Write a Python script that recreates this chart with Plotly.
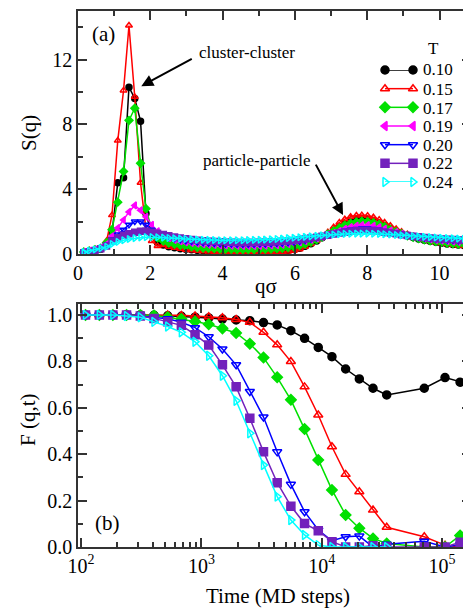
import plotly.graph_objects as go

# ---------------- data: panel (a) S(q) ----------------
q = [0.16, 0.31, 0.47, 0.63, 0.79, 0.94, 1.10, 1.26, 1.41, 1.57, 1.73, 1.88, 2.04, 2.20,
     2.36, 2.51, 2.67, 2.83, 2.98, 3.14, 3.30, 3.46, 3.61, 3.77, 3.93, 4.08, 4.24, 4.40,
     4.56, 4.71, 4.87, 5.03, 5.18, 5.34, 5.50, 5.65, 5.81, 5.97, 6.13, 6.28, 6.44, 6.60,
     6.75, 6.91, 7.07, 7.23, 7.38, 7.54, 7.70, 7.85, 8.01, 8.17, 8.33, 8.48, 8.64, 8.80,
     8.95, 9.11, 9.27, 9.42, 9.58, 9.74, 9.90, 10.05, 10.21, 10.37, 10.52, 10.68, 10.84, 11.00]

S_010 = [0.10, 0.15, 0.22, 0.30, 0.60,
         1.3, 4.4, 4.7, 10.3, 9.6, 8.2, 2.5, 1.2, 0.7,
         0.55, 0.45, 0.38, 0.33, 0.29, 0.26, 0.23, 0.21, 0.19, 0.18, 0.17, 0.16, 0.16, 0.15,
         0.15, 0.15, 0.15, 0.16, 0.16, 0.17, 0.18, 0.20, 0.23,
         0.28, 0.36, 0.48, 0.63, 0.80, 1.00, 1.22, 1.45, 1.68, 1.88, 2.02, 2.12, 2.15, 2.12,
         2.04, 1.92, 1.76, 1.58, 1.42, 1.27, 1.13, 1.02, 0.93,
         0.85, 0.78, 0.72, 0.67, 0.62, 0.58, 0.55, 0.52, 0.50, 0.48]
S_015 = [0.12, 0.18, 0.25, 0.35, 0.80,
         2.4, 7.0, 10.1, 14.1, 9.7, 4.4, 1.5, 0.8, 0.5,
         0.55, 0.45, 0.38, 0.32, 0.27, 0.23, 0.20, 0.17, 0.15, 0.14, 0.13, 0.12, 0.12, 0.11,
         0.11, 0.11, 0.11, 0.11, 0.12, 0.12, 0.13, 0.14, 0.16,
         0.20, 0.30, 0.45, 0.62, 0.82, 1.05, 1.35, 1.65, 1.95, 2.15, 2.30, 2.38, 2.40, 2.36,
         2.27, 2.12, 1.95, 1.75, 1.55, 1.38, 1.22, 1.08, 0.97,
         0.88, 0.80, 0.73, 0.67, 0.62, 0.57, 0.53, 0.50, 0.47, 0.45]
S_017 = [0.12, 0.18, 0.26, 0.36, 0.70,
         1.5, 3.2, 5.1, 8.25, 9.0, 5.6, 2.8, 1.5, 1.0,
         0.80, 0.68, 0.60, 0.53, 0.48, 0.44, 0.40, 0.37, 0.35, 0.33, 0.31, 0.30, 0.29, 0.28,
         0.28, 0.28, 0.28, 0.29, 0.30, 0.31, 0.33, 0.36, 0.40,
         0.45, 0.52, 0.62, 0.74, 0.88, 1.04, 1.22, 1.42, 1.60, 1.77, 1.90, 1.98, 2.02, 2.00,
         1.93, 1.82, 1.68, 1.52, 1.38, 1.25, 1.13, 1.03, 0.95,
         0.88, 0.82, 0.77, 0.72, 0.68, 0.65, 0.62, 0.60, 0.58, 0.56]
S_019 = [0.12, 0.20, 0.28, 0.38, 0.60,
         1.1, 1.6, 2.1, 2.6, 3.0, 2.7, 2.3, 1.8, 1.4,
         1.15, 0.98, 0.87, 0.79, 0.73, 0.68, 0.64, 0.61, 0.58, 0.56, 0.54, 0.53, 0.52, 0.51,
         0.50, 0.50, 0.50, 0.51, 0.52, 0.53, 0.55, 0.58, 0.62,
         0.67, 0.73, 0.80, 0.88, 0.97, 1.07, 1.18, 1.30, 1.42, 1.55, 1.66, 1.74, 1.78, 1.78,
         1.74, 1.66, 1.56, 1.45, 1.35, 1.25, 1.16, 1.08, 1.02,
         0.96, 0.91, 0.87, 0.83, 0.80, 0.77, 0.75, 0.73, 0.71, 0.70]
S_020 = [0.10, 0.16, 0.24, 0.34, 0.55,
         0.9, 1.2, 1.5, 1.8, 2.0, 2.0, 1.8, 1.5, 1.3,
         1.15, 1.03, 0.95, 0.88, 0.82, 0.77, 0.73, 0.70, 0.67, 0.65, 0.63, 0.62, 0.61, 0.60,
         0.60, 0.60, 0.60, 0.61, 0.62, 0.63, 0.65, 0.67, 0.70,
         0.74, 0.79, 0.85, 0.92, 1.00, 1.08, 1.17, 1.26, 1.35, 1.43, 1.50, 1.55, 1.57, 1.57,
         1.54, 1.49, 1.42, 1.35, 1.28, 1.21, 1.14, 1.08, 1.03,
         0.99, 0.95, 0.92, 0.89, 0.86, 0.84, 0.82, 0.80, 0.79, 0.78]
S_022 = [0.08, 0.14, 0.22, 0.32, 0.50,
         0.8, 1.0, 1.15, 1.25, 1.35, 1.4, 1.4, 1.35, 1.28,
         1.20, 1.12, 1.05, 0.99, 0.94, 0.89, 0.85, 0.82, 0.79, 0.77, 0.75, 0.73, 0.72, 0.71,
         0.71, 0.71, 0.71, 0.72, 0.73, 0.74, 0.76, 0.78, 0.81,
         0.84, 0.88, 0.93, 0.98, 1.04, 1.10, 1.16, 1.23, 1.29, 1.35, 1.40, 1.43, 1.45, 1.45,
         1.43, 1.40, 1.35, 1.30, 1.25, 1.19, 1.14, 1.10, 1.06,
         1.02, 0.99, 0.96, 0.93, 0.91, 0.89, 0.87, 0.86, 0.85, 0.84]
S_024 = [0.12, 0.20, 0.28, 0.36, 0.45,
         0.62, 0.75, 0.85, 0.93, 0.98, 1.02, 1.04, 1.04, 1.03,
         1.01, 0.99, 0.97, 0.95, 0.93, 0.91, 0.89, 0.88, 0.87, 0.86, 0.85, 0.85, 0.85, 0.85,
         0.85, 0.86, 0.87, 0.88, 0.89, 0.91, 0.93, 0.95, 0.98,
         1.00, 1.03, 1.06, 1.09, 1.12, 1.15, 1.18, 1.20, 1.22, 1.24, 1.25, 1.26, 1.26, 1.26,
         1.25, 1.24, 1.22, 1.20, 1.17, 1.15, 1.12, 1.10, 1.08,
         1.06, 1.04, 1.02, 1.00, 0.98, 0.97, 0.95, 0.94, 0.93, 0.92]

# ---------------- data: panel (b) F(q,t) ----------------
t = [109, 142, 184, 239, 311, 404, 525, 682, 886, 1151, 1496, 1944, 2526, 3282,
     4264, 5541, 7200, 9355, 12156, 15795, 20524, 26668, 34652, 71100, 105700, 141000, 170700]

F_010 = [1.0, 1.0, 1.0, 1.0, 1.0, 0.998, 0.996, 0.994, 0.99, 0.987, 0.982, 0.978, 0.975, 0.967,
         0.957, 0.932, 0.899, 0.86, 0.82, 0.767, 0.724, 0.684, 0.655, 0.684, 0.73, 0.71, 0.70]
F_015 = [1.0, 1.0, 1.0, 1.0, 1.0, 1.0, 1.0, 0.998, 0.995, 0.992, 0.988, 0.98, 0.968, 0.925,
         0.871, 0.799, 0.69, 0.569, 0.432, 0.313, 0.238, 0.159, 0.085, 0.044, 0.008, 0.0, 0.01]
F_017 = [1.0, 1.0, 1.0, 1.0, 1.0, 0.997, 0.99, 0.982, 0.972, 0.96, 0.942, 0.922, 0.876, 0.816,
         0.731, 0.634, 0.508, 0.375, 0.246, 0.138, 0.081, 0.037, 0.015, 0.0, 0.0, 0.05, 0.02]
F_020 = [1.0, 1.0, 1.0, 1.0, 0.995, 0.99, 0.983, 0.968, 0.945, 0.906, 0.853, 0.785, 0.67, 0.56,
         0.41, 0.27, 0.152, 0.073, 0.027, 0.044, 0.047, 0.0, 0.012, 0.025, 0.0, 0.01, 0.03]
F_022 = [1.0, 1.0, 1.0, 1.0, 0.995, 0.985, 0.97, 0.955, 0.915, 0.87, 0.785, 0.69, 0.555, 0.41,
         0.277, 0.176, 0.101, 0.07, 0.023, 0.0, 0.0, 0.005, 0.0, 0.0, 0.0, 0.02, 0.01]
F_024 = [1.0, 1.0, 1.0, 0.995, 0.99, 0.97, 0.95, 0.925, 0.884, 0.824, 0.738, 0.63, 0.49, 0.353,
         0.217, 0.116, 0.052, 0.008, 0.0, 0.0, 0.0, 0.0, 0.0]

temps = ["0.10", "0.15", "0.17", "0.19", "0.20", "0.22", "0.24"]

# ---------------- styles ----------------
colors = ["#000000", "#ff0000", "#00e000", "#ff00ff", "#0000ff", "#7221bc", "#00ffff"]
symbols = ["circle", "triangle-up-open", "diamond", "triangle-left",
           "triangle-down-open", "square", "triangle-right-open"]
S_all = [S_010, S_015, S_017, S_019, S_020, S_022, S_024]
F_all = {0: F_010, 1: F_015, 2: F_017, 4: F_020, 5: F_022, 6: F_024}

FONT = "Liberation Serif"
AX = "#333333"

# the page body has an 8px margin, so the figure is 8px smaller than the window
OFF = 8
W, H = 471 - OFF, 609 - OFF
PL, PR, PT, PB = 78, 471, 11, 547      # plot area in window pixels
ML, MT = PL - OFF, PT - OFF
MB = (OFF + H) - PB
MR = (OFF + W) - PR


def px(xp):
    return (xp - PL) / (PR - PL)


def py(yp):
    return (PB - yp) / (PB - PT)


fig = go.Figure()

for i, (T, S) in enumerate(zip(temps, S_all)):
    fig.add_trace(go.Scatter(
        x=q, y=S, mode="lines+markers", name=T, showlegend=False,
        line=dict(color=colors[i], width=1.5),
        marker=dict(symbol=symbols[i], size=6, color=colors[i],
                    line=dict(color=colors[i], width=1.5)),
        xaxis="x", yaxis="y"))

for i in [0, 1, 2, 4, 5, 6]:
    F = F_all[i]
    fig.add_trace(go.Scatter(
        x=t[:len(F)], y=F, mode="lines+markers", name=temps[i], showlegend=False,
        line=dict(color=colors[i], width=1.5),
        marker=dict(symbol=symbols[i], size=8, color=colors[i],
                    line=dict(color=colors[i], width=1.5)),
        xaxis="x2", yaxis="y2"))

# legend keys (line with a marker at each end), drawn on a hidden helper axis
legend_rows = list(range(len(temps)))
for i, T in enumerate(temps):
    fig.add_trace(go.Scatter(
        x=[0, 1], y=[legend_rows[i]] * 2, mode="lines+markers", showlegend=False,
        line=dict(color=colors[i], width=1.5),
        marker=dict(symbol=symbols[i], size=8, color=colors[i],
                    line=dict(color=colors[i], width=1.5)),
        xaxis="x3", yaxis="y3", cliponaxis=False, hoverinfo="skip"))

tickfont = dict(family=FONT, size=20, color="black")
common = dict(showline=True, linecolor=AX, linewidth=1.5, mirror="ticks",
              ticks="inside", tickcolor=AX, tickwidth=1.5, ticklen=9,
              showgrid=False, zeroline=False, tickfont=tickfont, automargin=False)
mn = dict(ticks="inside", ticklen=5, tickcolor=AX, tickwidth=1.5)

minor_log = [m * 10 ** e for e in range(2, 6) for m in range(2, 10)]

fig.update_layout(
    width=W, height=H,
    margin=dict(l=ML, r=MR, t=MT, b=MB, autoexpand=False),
    paper_bgcolor="white", plot_bgcolor="white",
    font=dict(family=FONT, color="black"),
    showlegend=False,
    xaxis=dict(domain=[0, 1], range=[0, 10.87], dtick=2, anchor="y",
               minor=dict(dtick=1, **mn), **common),
    yaxis=dict(domain=[py(254), 1], range=[0, 15], dtick=4, anchor="x",
               minor=dict(dtick=2, **mn), **common),
    xaxis2=dict(domain=[0, 1], type="log", range=[1.975, 5.24], anchor="y2",
                tickvals=[100, 1000, 10000, 100000],
                ticktext=["10<sup>2</sup>", "10<sup>3</sup>", "10<sup>4</sup>", "10<sup>5</sup>"],
                minor=dict(tickvals=minor_log, **mn), **common),
    yaxis2=dict(domain=[0, py(304)], range=[0, 1.047], dtick=0.2, tickformat=".1f",
                anchor="x2", minor=dict(dtick=0.1, **mn), **common),
    xaxis3=dict(domain=[px(385), px(413)], range=[0, 1], visible=False, anchor="y3",
                fixedrange=True),
    yaxis3=dict(domain=[py(182), py(70)], range=[6, 0], visible=False, anchor="x3",
                fixedrange=True),
)


def label(text, x, y, size, xanchor="center", angle=0):
    return dict(text=text, x=px(x), y=py(y), xref="paper", yref="paper",
                xanchor=xanchor, yanchor="middle", showarrow=False, textangle=angle,
                font=dict(family=FONT, size=size, color="black"))


legend_y = [70, 89, 108, 126, 145, 164, 182]
ann = [
    label("(a)", 103, 34, 21),
    label("(b)", 107, 523, 21),
    label("cluster-cluster", 197, 53, 17, xanchor="left"),
    label("particle-particle", 201, 160, 17, xanchor="left"),
    dict(text="", x=1.75, y=10.36, xref="x", yref="y", ax=52, ay=-28,
         showarrow=True, arrowhead=2, arrowsize=1.2, arrowwidth=2, arrowcolor="black"),
    dict(text="", x=7.33, y=2.4, xref="x", yref="y", ax=-28, ay=-52,
         showarrow=True, arrowhead=2, arrowsize=1.2, arrowwidth=2, arrowcolor="black"),
    label("qσ", 266, 286, 21),
    label("Time (MD steps)", 278, 596, 21),
    label("S(q)", 29, 133, 21, angle=-90),
    label("F (q,t)", 28, 420, 21, angle=-90),
    label("T", 433, 48, 17),
]
for T, yy in zip(temps, legend_y):
    ann.append(label(T, 421, yy, 17, xanchor="left"))
fig.update_layout(annotations=ann)

fig.write_html("out.html")
